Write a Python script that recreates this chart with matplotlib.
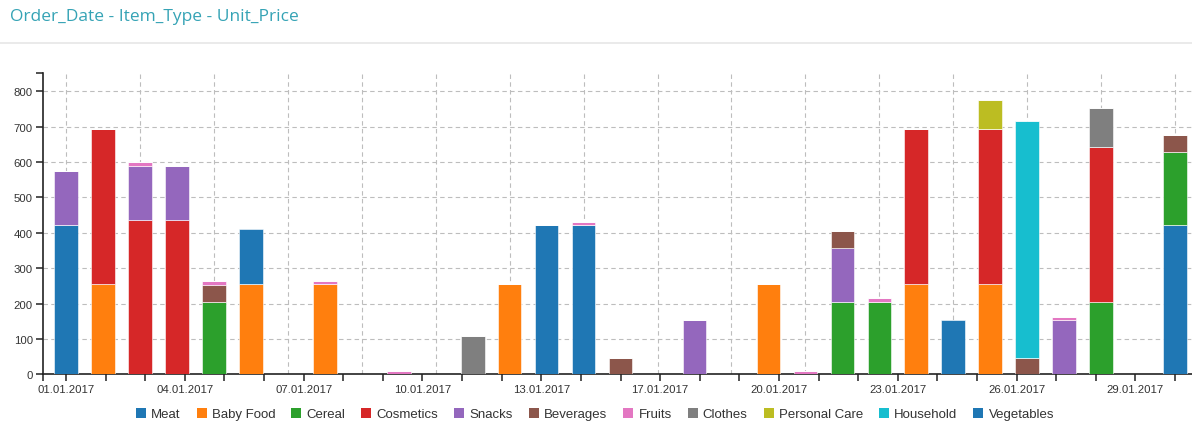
import matplotlib
matplotlib.use("Agg")
import matplotlib.pyplot as plt
from matplotlib.patches import Patch
import numpy as np

# Order dates (one band per day of January 2017)
dates = [f"{d:02d}.01.2017" for d in range(1, 32)]

# Unit price per item type and order date (0 = no order of that type that day)
meat          = [421.89,0,0,0,0,0,0,0,0,0,0,0,0,421.89,421.89,0,0,0,0,0,0,0,0,0,0,0,0,0,0,0,421.89]
baby_food     = [0,255.28,0,0,0,255.28,0,255.28,0,0,0,0,255.28,0,0,0,0,0,0,255.28,0,0,0,255.28,0,255.28,0,0,0,0,0]
cereal        = [0,0,0,0,205.70,0,0,0,0,0,0,0,0,0,0,0,0,0,0,0,0,205.70,205.70,0,0,0,0,0,205.70,0,205.70]
cosmetics     = [0,437.20,437.20,437.20,0,0,0,0,0,0,0,0,0,0,0,0,0,0,0,0,0,0,0,437.20,0,437.20,0,0,437.20,0,0]
snacks        = [152.58,0,152.58,152.58,0,0,0,0,0,0,0,0,0,0,0,0,0,152.58,0,0,0,152.58,0,0,0,0,0,152.58,0,0,0]
beverages     = [0,0,0,0,47.45,0,0,0,0,0,0,0,0,0,0,47.45,0,0,0,0,0,47.45,0,0,0,0,47.45,0,0,0,47.45]
fruits        = [0,0,9.33,0,9.33,0,0,9.33,0,9.33,0,0,0,0,9.33,0,0,0,0,0,9.33,0,9.33,0,0,0,0,9.33,0,0,0]
clothes       = [0,0,0,0,0,0,0,0,0,0,0,109.28,0,0,0,0,0,0,0,0,0,0,0,0,0,0,0,0,109.28,0,0]
personal_care = [0,0,0,0,0,0,0,0,0,0,0,0,0,0,0,0,0,0,0,0,0,0,0,0,0,81.73,0,0,0,0,0]
household     = [0,0,0,0,0,0,0,0,0,0,0,0,0,0,0,0,0,0,0,0,0,0,0,0,0,0,668.27,0,0,0,0]
vegetables    = [0,0,0,0,0,154.06,0,0,0,0,0,0,0,0,0,0,0,0,0,0,0,0,0,0,154.06,0,0,0,0,0,0]

item_types = ["Meat", "Baby Food", "Cereal", "Cosmetics", "Snacks", "Beverages",
              "Fruits", "Clothes", "Personal Care", "Household", "Vegetables"]
series = [meat, baby_food, cereal, cosmetics, snacks, beverages,
          fruits, clothes, personal_care, household, vegetables]
colors = ["#1f77b4", "#ff7f0e", "#2ca02c", "#d62728", "#9467bd", "#8c564b",
          "#e377c2", "#7f7f7f", "#bcbd22", "#17becf", "#1f77b4"]

tick_labels = ["01.01.2017", "04.01.2017", "07.01.2017", "10.01.2017", "13.01.2017",
               "17.01.2017", "20.01.2017", "23.01.2017", "26.01.2017", "29.01.2017"]
y_ticks = [0, 100, 200, 300, 400, 500, 600, 700, 800]

plt.rcParams["font.family"] = ["Liberation Sans", "DejaVu Sans"]

W, H = 1192, 427
fig = plt.figure(figsize=(W / 100, H / 100), dpi=100)

# header
fig.text(10 / W, 1 - 17 / H, "Order_Date - Item_Type - Unit_Price", color="#35a3b5",
         fontsize=12.5, family=["Open Sans", "DejaVu Sans"], va="center", ha="left")
fig.add_artist(plt.Line2D([0, 1], [1 - 44 / H, 1 - 44 / H], color="#e6e6e6", lw=1.2,
                          transform=fig.transFigure))

step = 36.97
left_px, bottom_px, top_px = 42.7, 375.3, 74
ax = fig.add_axes([left_px / W, (H - bottom_px) / H, (W - left_px) / W, (bottom_px - top_px) / H])

x = np.arange(len(dates))
bottom = np.zeros(len(dates))
for name, vals, col in zip(item_types, series, colors):
    v = np.array(vals, dtype=float)
    ax.bar(x, v, width=0.64, bottom=bottom, color=col, edgecolor="white", linewidth=0.4, zorder=3)
    bottom += v

totals = bottom
ax.set_ylim(0, totals.max() * 1.1)
ax.set_xlim((left_px - 66) / step, (W - 66) / step)

# grid
for gx in range(0, len(dates), 2):
    ax.axvline(gx, color="#bdbdbd", lw=0.8, ls=(0, (4, 3)), zorder=1)
for gy in y_ticks[1:]:
    ax.axhline(gy, color="#bdbdbd", lw=0.8, ls=(0, (4, 3)), zorder=1)

for s in ["top", "right"]:
    ax.spines[s].set_visible(False)
for s in ["left", "bottom"]:
    ax.spines[s].set_color("#222222")
    ax.spines[s].set_linewidth(1.2)

xt = np.linspace(0, len(dates) - 1, 29)
ax.set_xticks(list(xt) + [ax.get_xlim()[0]])
ax.set_xticklabels([tick_labels[i // 3] if i % 3 == 0 else "" for i in range(29)] + [""])
ax.set_yticks(y_ticks + [ax.get_ylim()[1]])
ax.set_yticklabels([str(t) for t in y_ticks] + [""])
ax.tick_params(axis="both", colors="#222222", labelcolor="#333333", labelsize=8.2,
               length=5, width=1.1)
ax.tick_params(axis="x", pad=2)
ax.tick_params(axis="y", pad=2)

handles = [Patch(facecolor=c, edgecolor="none") for c in colors]
fig.legend(handles, item_types, loc="center", bbox_to_anchor=(595 / W, 1 - 415 / H),
           ncol=len(item_types), frameon=False, fontsize=9.5, handlelength=0.76,
           handleheight=0.76, handletextpad=0.4, columnspacing=1.2, labelcolor="#333333",
           borderpad=0, borderaxespad=0)

fig.savefig("out.png", dpi=100)
